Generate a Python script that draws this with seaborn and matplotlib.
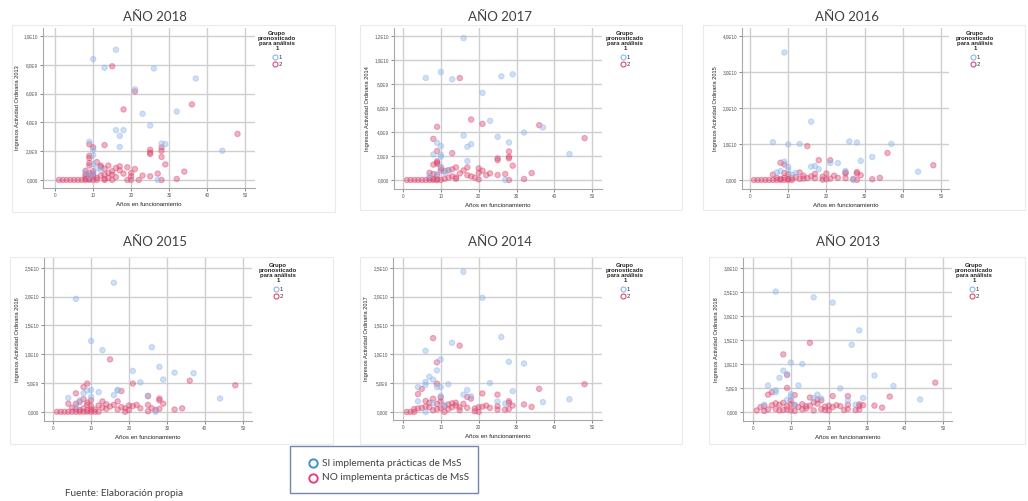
import matplotlib
matplotlib.use("Agg")
import matplotlib.pyplot as plt
from matplotlib.lines import Line2D
from matplotlib.patches import Rectangle
import seaborn as sns
import pandas as pd

# ---------------- DATA (values in units of 1e9) ----------------
YEARS = ["2018", "2017", "2016", "2015", "2014", "2013"]
Y_LABEL_YEARS = ["2013", "2014", "2015", "2016", "2017", "2018"]
X_LABEL = "Años en funcionamiento"
LEGEND_TITLE = "Grupo\npronosticado\npara análisis\n1"
GROUP_LABELS = ["1", "2"]
BOTTOM_LABELS = ["SI implementa prácticas de MsS", "NO implementa prácticas de MsS"]
SOURCE = "Fuente: Elaboración propia"

SI_2018 = [(16, 9.05), (10, 8.4), (13, 7.8), (26, 7.75), (37, 7.05), (21, 6.3), (32, 4.75), (23, 4.6),
           (25, 3.78), (16, 3.46), (18, 3.46), (17, 3.06), (17, 2.3), (9, 2.65), (28, 2.53), (29, 2.49),
           (44, 2.03), (10, 2.1), (10, 1.73), (10, 1.1), (11, 0.83), (12, 0.7), (27, 0.0), (9, 0.25),
           (8, 0.55), (10, 0.45)]
NO_2018 = [(15, 7.9), (21, 6.15), (36, 5.25), (18, 4.9), (48, 3.2), (9, 2.47), (13, 2.42), (10, 2.26),
           (25, 2.1), (25, 1.9), (25, 1.8), (28, 2.26), (28, 2.03), (28, 1.6), (29, 1.08), (34, 0.58),
           (32, 0.07), (28, 0.0), (27, 0.44), (25, 0.25), (23, 0.3),
           (1, 0), (2, 0), (3, 0), (4, 0), (5, 0), (6, 0), (7, 0), (8, 0), (9, 0), (10, 0), (11, 0),
           (13, 0), (15, 0), (19, 0), (20, 0), (22, 0),
           (9, 1.68), (9, 1.52), (9, 1.18), (9, 1.0), (8, 0.64), (9, 0.48), (11, 1.24), (12, 1.0),
           (13, 0.78), (14, 1.0), (14, 0.48), (15, 0.6), (16, 0.83), (17, 0.95), (17, 0.67), (18, 0.44),
           (19, 0.88), (20, 0.48), (20, 0.25), (21, 0.76), (13, 0.37), (15, 0.37), (12, 0.3), (8, 0.25),
           (10, 0.25), (11, 0.14), (8, 0.07), (9, 0.07), (13, 0.07), (14, 0.14), (10, 0.42), (8, 0.4),
           (9, 0.3), (10, 0.6), (12, 0.9), (16, 0.2)]

SI_2017 = [(16, 11.83), (10, 9.0), (6, 8.5), (13, 8.39), (26, 8.64), (29, 8.81), (21, 7.26), (23, 4.93),
           (37, 4.38), (32, 3.96), (16, 3.71), (25, 3.6), (18, 2.99), (17, 2.77), (9, 3.1), (10, 2.83),
           (28, 3.13), (44, 2.16), (8, 2.13), (10, 2.1), (10, 1.94), (17, 1.58), (12, 0.83), (10, 1.1),
           (27, 0.0), (9, 0.5), (7, 0.35), (11, 0.6)]
NO_2017 = [(15, 8.5), (18, 5.04), (21, 4.68), (9, 4.43), (36, 4.57), (48, 3.49), (8, 3.43), (9, 2.41),
           (13, 2.24), (28, 2.38), (28, 1.94), (28, 1.8), (25, 1.8), (25, 1.66), (29, 1.19), (34, 0.58),
           (32, 0.08), (27, 0.5), (25, 0.42), (23, 0.55), (21, 0.78), (20, 0.97), (20, 0.6), (22, 0.4),
           (19, 0.2), (20, 0.05), (14, 1.05), (13, 0.9), (12, 0.8), (11, 0.75), (9, 1.55), (9, 1.45),
           (8, 1.28), (9, 1.35), (10, 1.0), (10, 0.8), (7, 0.6), (8, 0.5), (9, 0.4), (15, 0.55),
           (16, 0.8), (17, 1.05), (17, 0.4), (18, 0.3), (14, 0.1), (14, 0.2), (13, 0.3), (12, 0.2),
           (11, 0.1), (28, 0.0), (1, 0), (2, 0), (3, 0), (4, 0), (5, 0), (6, 0), (7, 0), (8, 0),
           (9, 0), (10, 0), (7, 0.15), (8, 0.1), (9, 0.05)]

SI_2016 = [(9, 35.4), (16, 16.2), (6, 10.5), (10, 9.9), (13, 10.0), (26, 10.7), (28, 10.4), (37, 10.0),
           (32, 6.4), (29, 5.3), (9, 5.1), (21, 4.7), (23, 4.7), (16, 3.7), (17, 3.9), (18, 3.0),
           (10, 3.7), (10, 2.8), (44, 2.3), (25, 2.5), (7, 2.1), (27, 0.0), (11, 1.5), (12, 2.0), (8, 2.5)]
NO_2016 = [(15, 9.4), (36, 7.5), (18, 5.5), (21, 5.5), (48, 4.1), (8, 4.8), (9, 4.3), (25, 2.1),
           (25, 1.8), (28, 2.2), (28, 1.8), (29, 1.3), (34, 0.6), (32, 0.2), (13, 2.1), (20, 1.8),
           (17, 1.7), (10, 1.6), (9, 1.9), (6, 1.5), (22, 1.2), (23, 0.6), (19, 0.9), (16, 1.0),
           (15, 0.5), (14, 1.2), (14, 0.4), (12, 0.8), (11, 0.5), (10, 0.3), (9, 0.6), (8, 0.3),
           (7, 0.6), (27, 0.3), (28, 0.0), (20, 0.2), (1, 0), (2, 0), (3, 0), (4, 0), (5, 0), (6, 0),
           (7, 0), (8, 0), (9, 0), (10, 0), (11, 0), (13, 0.3), (17, 0.5), (19, 0.1), (21, 0.4), (25, 0.5)]

SI_2015 = [(16, 22.4), (6, 19.6), (10, 12.3), (13, 10.7), (26, 11.2), (28, 7.8), (21, 7.1), (32, 6.8),
           (37, 6.7), (29, 5.6), (23, 5.1), (17, 3.8), (17, 3.7), (9, 3.7), (10, 3.8), (12, 3.4),
           (8, 3.2), (4, 2.4), (44, 2.3), (16, 2.9), (25, 2.8), (27, 0.0), (7, 2.0), (10, 2.6), (6, 1.0)]
NO_2015 = [(15, 9.1), (36, 5.4), (48, 4.6), (9, 4.9), (21, 4.9), (8, 4.3), (18, 3.6), (6, 3.2),
           (25, 2.7), (28, 2.3), (28, 2.0), (29, 1.4), (34, 0.6), (32, 0.4), (4, 1.4), (6, 1.4),
           (7, 1.7), (8, 2.2), (9, 1.6), (9, 1.2), (10, 1.0), (10, 2.0), (11, 0.4), (12, 1.1),
           (13, 1.8), (13, 0.7), (14, 1.3), (14, 0.5), (15, 0.9), (16, 1.2), (17, 1.8), (17, 0.4),
           (18, 0.8), (19, 0.6), (20, 1.1), (20, 0.3), (21, 1.0), (22, 1.2), (23, 0.6), (25, 1.2),
           (25, 0.1), (26, 0.6), (28, 0.5), (27, 0.3), (1, 0), (2, 0), (3, 0), (4, 0), (5, 0), (6, 0),
           (7, 0), (8, 0), (9, 0), (10, 0), (11, 0), (6, 0.5), (7, 0.3), (8, 0.6), (5, 0.7), (9, 0.3),
           (10, 0.4), (19, 0.0), (12, 0.0)]

SI_2014 = [(16, 24.3), (21, 19.8), (26, 13.0), (13, 12.0), (6, 10.6), (10, 9.1), (28, 8.7), (32, 8.4),
           (9, 7.2), (7, 6.1), (8, 5.6), (6, 5.2), (23, 5.0), (12, 4.8), (4, 4.3), (6, 4.7), (9, 4.3),
           (10, 4.3), (17, 3.8), (29, 3.6), (16, 3.0), (18, 2.7), (44, 2.2), (37, 1.7), (25, 1.8),
           (27, 1.45), (4, 1.85), (6, 0.0), (10, 2.8), (8, 1.5), (11, 1.2)]
NO_2014 = [(8, 12.8), (15, 11.5), (9, 8.6), (48, 4.8), (9, 4.9), (5, 4.0), (36, 4.0), (21, 3.2),
           (25, 3.0), (4, 3.1), (28, 1.85), (28, 1.55), (29, 1.1), (32, 1.3), (34, 0.87), (17, 2.6),
           (18, 2.3), (8, 2.3), (6, 1.9), (7, 1.6), (9, 1.4), (10, 1.8), (10, 2.5), (11, 1.0),
           (12, 1.3), (13, 1.5), (14, 1.1), (14, 1.6), (15, 0.8), (16, 1.4), (17, 0.7), (19, 0.6),
           (20, 0.8), (21, 0.9), (22, 1.1), (23, 0.7), (25, 0.4), (25, 1.0), (27, 0.4), (28, 0.5),
           (19, 0.1), (20, 0.0), (11, 0.0), (3, 0.0), (1, 0), (2, 0), (3, 0.5), (4, 0.6), (5, 0.7),
           (6, 0.9), (7, 0.8), (8, 0.3), (9, 0.5), (10, 0.6), (12, 0.5), (13, 0.8), (15, 0.3)]

SI_2013 = [(6, 25.1), (16, 23.9), (21, 22.8), (28, 17.0), (26, 14.0), (10, 10.3), (13, 10.0), (8, 8.6),
           (9, 7.9), (32, 7.6), (7, 7.1), (4, 5.5), (12, 5.5), (37, 5.4), (23, 4.9), (6, 4.5), (6, 4.1),
           (17, 3.6), (16, 2.9), (18, 2.8), (29, 2.9), (44, 2.6), (25, 2.4), (27, 1.5), (10, 3.7),
           (10, 3.2), (3, 1.5), (9, 2.5), (11, 1.5)]
NO_2013 = [(15, 14.4), (8, 12.0), (9, 7.7), (48, 6.1), (9, 5.0), (5, 4.1), (4, 3.6), (36, 3.2),
           (21, 3.3), (25, 3.3), (11, 3.5), (15, 3.0), (32, 1.3), (34, 0.9), (28, 1.6), (28, 1.2),
           (29, 1.4), (17, 2.6), (18, 2.4), (10, 2.4), (2, 1.0), (3, 1.2), (5, 1.4), (6, 1.8), (7, 1.5),
           (8, 1.9), (9, 1.2), (10, 1.6), (11, 1.4), (12, 1.0), (13, 1.6), (14, 1.2), (15, 1.3),
           (16, 2.0), (17, 1.7), (19, 1.1), (20, 1.3), (21, 1.0), (22, 1.4), (23, 1.2), (25, 1.5),
           (25, 0.6), (27, 0.4), (28, 0.5), (19, 0.4), (20, 0.3), (1, 0.3), (3, 0.2), (4, 0.5),
           (6, 0.6), (7, 0.3), (8, 0.4), (9, 0.5), (10, 0.3), (11, 0.2), (13, 0.5), (14, 0.7),
           (16, 0.3), (18, 0.6), (24, 0.4)]

SERIES = {"2018": (SI_2018, NO_2018), "2017": (SI_2017, NO_2017), "2016": (SI_2016, NO_2016),
          "2015": (SI_2015, NO_2015), "2014": (SI_2014, NO_2014), "2013": (SI_2013, NO_2013)}

X_TICKS = [0, 10, 20, 30, 40, 50]
Y_TICKS = {
    "2018": ([0, 2, 4, 6, 8, 10], ["0,000", "2,0E9", "4,0E9", "6,0E9", "8,0E9", "1,0E10"]),
    "2017": ([0, 2, 4, 6, 8, 10, 12], ["0,000", "2,0E9", "4,0E9", "6,0E9", "8,0E9", "1,0E10", "1,2E10"]),
    "2016": ([0, 10, 20, 30, 40], ["0,000", "1,0E10", "2,0E10", "3,0E10", "4,0E10"]),
    "2015": ([0, 5, 10, 15, 20, 25], ["0,000", "5,0E9", "1,0E10", "1,5E10", "2,0E10", "2,5E10"]),
    "2014": ([0, 5, 10, 15, 20, 25], ["0,000", "5,0E9", "1,0E10", "1,5E10", "2,0E10", "2,5E10"]),
    "2013": ([0, 5, 10, 15, 20, 25, 30], ["0,000", "5,0E9", "1,0E10", "1,5E10", "2,0E10", "2,5E10", "3,0E10"]),
}

# ---------------- LAYOUT (pixels) ----------------
W, H = 1028, 501
LAYOUT = {
    "2018": ((43, 28, 255, 188), (-3.2, 52.6), (-0.56, 10.56)),
    "2017": ((394, 28, 602, 189), (-2.4, 52.6), (-0.75, 12.67)),
    "2016": ((742, 28, 949, 189), (-2.1, 52.1), (-2.5, 42.2)),
    "2015": ((44, 258, 252, 421), (-2.4, 52.4), (-1.6, 26.7)),
    "2014": ((393, 258, 602, 420), (-2.6, 52.6), (-1.4, 26.7)),
    "2013": ((743, 258, 952, 421), (-2.6, 52.4), (-1.9, 32.1)),
}
FRAMES = {"2018": (12, 25, 335, 212), "2017": (360, 25, 682, 210), "2016": (703, 25, 1025, 210),
          "2015": (10, 257, 333, 444), "2014": (360, 257, 682, 444), "2013": (709, 257, 1025, 444)}
TITLES = {"2018": (155, 17), "2017": (500, 17), "2016": (847, 17),
          "2015": (155, 242), "2014": (500, 242), "2013": (848, 242)}
LEGPOS = {"2018": (277, 31), "2017": (625, 31), "2016": (975, 31),
          "2015": (278, 263), "2014": (625, 263), "2013": (974, 263)}

BLUE = "#8DB6EA"
RED = "#DB4A72"

sns.set_theme(style="white")
plt.rcParams["font.family"] = ["Liberation Sans", "DejaVu Sans"]

fig = plt.figure(figsize=(W / 100, H / 100), dpi=100)
fig.patch.set_facecolor("white")


def fx(px):
    return px / W


def fy(py):
    return 1 - py / H


for yr, ylab in zip(YEARS, Y_LABEL_YEARS):
    l, t, r, b = FRAMES[yr]
    fig.patches.append(Rectangle((fx(l), fy(b)), fx(r - l), (b - t) / H, transform=fig.transFigure,
                                 fill=False, edgecolor="#EAEAEA", linewidth=0.8, zorder=0))
    (al, at, ar, ab), xl, yl = LAYOUT[yr]
    ax = fig.add_axes([fx(al), fy(ab), fx(ar - al), (ab - at) / H])
    si, no = SERIES[yr]
    df = pd.DataFrame(
        [(x, y, "1") for x, y in si] + [(x, y, "2") for x, y in no],
        columns=["anos", "ingresos", "grupo"])
    df = pd.concat([df[df.grupo == "2"], df[df.grupo == "1"]])
    sns.scatterplot(data=df, x="anos", y="ingresos", hue="grupo", palette={"1": BLUE, "2": RED},
                    s=15, alpha=0.42, edgecolor="face", linewidth=0.8, legend=False, ax=ax, zorder=3)
    ax.set_xlim(*xl)
    ax.set_ylim(*yl)
    ax.set_xticks(X_TICKS)
    ax.set_xticklabels([str(v) for v in X_TICKS])
    ticks, labs = Y_TICKS[yr]
    ax.set_yticks(ticks)
    ax.set_yticklabels(labs)
    ax.grid(True, color="#CFCFCF", linewidth=1.0, zorder=0)
    ax.set_axisbelow(True)
    for s in ["top", "right"]:
        ax.spines[s].set_visible(False)
    for s in ["left", "bottom"]:
        ax.spines[s].set_color("#A8A8A8")
        ax.spines[s].set_linewidth(0.8)
    ax.tick_params(axis="both", labelsize=3.3, colors="#555555", length=2, width=0.5, pad=1.5,
                   left=True, bottom=True)
    ax.set_xlabel(X_LABEL, fontsize=4.4, color="#222222", labelpad=3)
    ax.set_ylabel("Ingresos Actividad Ordinaria " + ylab, fontsize=4.1, color="#222222", labelpad=3)
    ax.set_facecolor("white")

    tx, ty = TITLES[yr]
    fig.text(fx(tx), fy(ty), "AÑO " + yr, ha="center", va="center", fontsize=9.5,
             color="#404040", family=["Lato", "DejaVu Sans"])

    handles = [Line2D([], [], linestyle="none", marker="o", markersize=3.6, markerfacecolor="none",
                      markeredgecolor=BLUE, markeredgewidth=0.8),
               Line2D([], [], linestyle="none", marker="o", markersize=3.6, markerfacecolor="none",
                      markeredgecolor=RED, markeredgewidth=0.8)]
    lx, ly = LEGPOS[yr]
    leg = ax.legend(handles, GROUP_LABELS, title=LEGEND_TITLE, loc="upper center",
                    bbox_to_anchor=(fx(lx), fy(ly)), bbox_transform=fig.transFigure,
                    frameon=False, fontsize=4.3, title_fontsize=4.3, handletextpad=0.15,
                    handlelength=0.9, borderpad=0, labelspacing=0.35, borderaxespad=0)
    leg.get_title().set_fontweight("bold")
    leg.get_title().set_multialignment("center")
    leg.get_title().set_linespacing(1.0)
    leg._legend_box.sep = 2.5
    for txt in leg.get_texts():
        txt.set_color("#333333")

# bottom legend box
fig.patches.append(Rectangle((fx(290), fy(493)), fx(478 - 290), (493 - 446) / H,
                             transform=fig.transFigure, fill=False, edgecolor="#6F88B0",
                             linewidth=1.0, zorder=5))
for (cy, col, lab) in [(463, "#3F8FD6", BOTTOM_LABELS[0]), (478, "#E8407A", BOTTOM_LABELS[1])]:
    fig.lines.append(Line2D([fx(313)], [fy(cy)], transform=fig.transFigure, linestyle="none",
                            marker="o", markersize=6, markerfacecolor="none", markeredgecolor=col,
                            markeredgewidth=1.4))
    fig.text(fx(322), fy(cy), lab, ha="left", va="center", fontsize=7.2, color="#404040",
             family=["Lato", "DejaVu Sans"])

fig.text(fx(65), fy(494), SOURCE, ha="left", va="center", fontsize=7.2, color="#404040",
         family=["Lato", "DejaVu Sans"])

fig.savefig("out.png", dpi=100, facecolor="white")
